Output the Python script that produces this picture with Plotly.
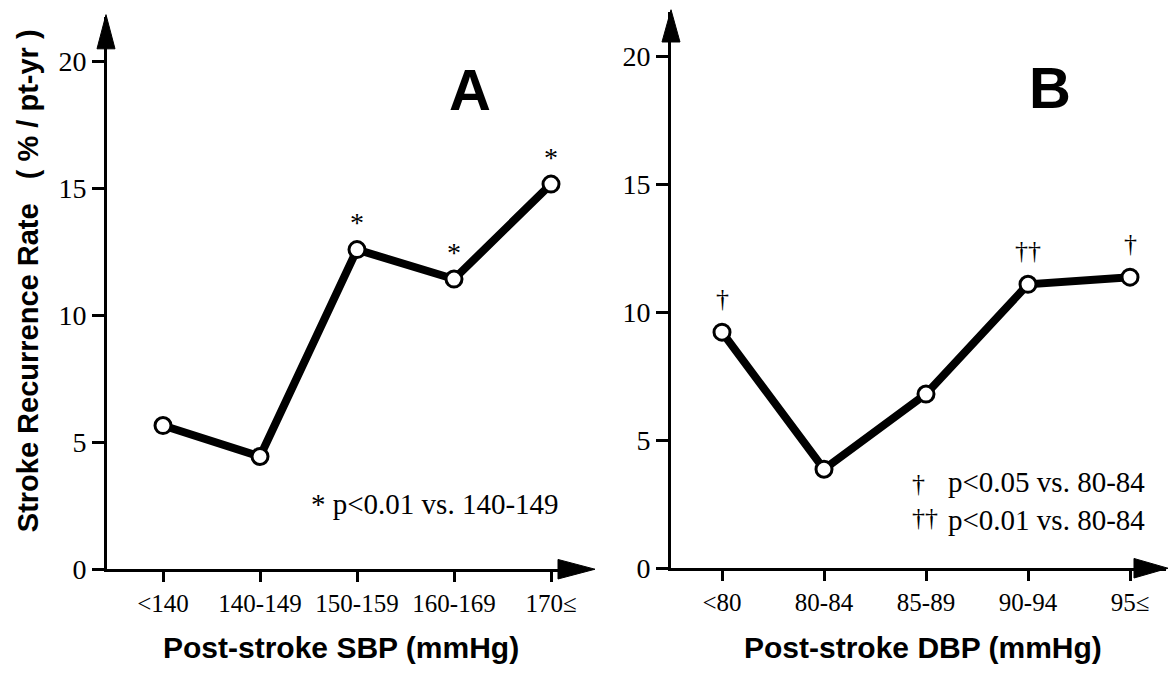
import plotly.graph_objects as go

# ---------------- data ----------------
sbp_categories = ["&lt;140", "140-149", "150-159", "160-169", "170≤"]
sbp_rates = [5.66, 4.44, 12.59, 11.43, 15.17]
sbp_marks = ["", "", "*", "*", "*"]

dbp_categories = ["&lt;80", "80-84", "85-89", "90-94", "95≤"]
dbp_rates = [9.23, 3.87, 6.81, 11.10, 11.38]
dbp_marks = ["†", "", "", "††", "†"]

y_ticks = [0, 5, 10, 15, 20]

# ---------------- layout helpers ----------------
W, H = 1168, 677


def px(x):
    return x / W


def py(y):
    return 1 - y / H


SERIF = "Liberation Serif, Times New Roman, serif"
SANS = "Liberation Sans, Arial, sans-serif"

fig = go.Figure()

for i, (cats, vals) in enumerate([(sbp_categories, sbp_rates), (dbp_categories, dbp_rates)]):
    fig.add_trace(go.Scatter(
        x=list(range(len(cats))), y=vals,
        mode="lines+markers",
        line=dict(color="black", width=8),
        marker=dict(symbol="circle", size=16, color="white",
                    line=dict(color="black", width=3)),
        xaxis="x" if i == 0 else "x2",
        yaxis="y" if i == 0 else "y2",
        showlegend=False, hoverinfo="skip",
        cliponaxis=False,
    ))

# significance marks
for cats, vals, marks, xr, yr, sz, shift in [
    (sbp_categories, sbp_rates, sbp_marks, "x", "y", 28, 27),
    (dbp_categories, dbp_rates, dbp_marks, "x2", "y2", 26, 34),
]:
    for j, m in enumerate(marks):
        if m:
            fig.add_annotation(x=j, y=vals[j], xref=xr, yref=yr, text=m,
                               showarrow=False, yshift=shift,
                               xanchor="center", yanchor="middle",
                               font=dict(family=SERIF, size=sz, color="black"))

axis_common = dict(showgrid=False, zeroline=False, showline=True,
                   linecolor="black", linewidth=3, ticks="outside",
                   tickwidth=3, tickcolor="black", fixedrange=True)

# panel A geometry (pixels): y-axis at 107, categories at 163 + 97*k, zero at 583, 26 px/unit
fig.update_layout(
    xaxis=dict(domain=[px(107), px(585)], range=[(107 - 163) / 97, (585 - 163) / 97],
               tickvals=list(range(5)), ticktext=sbp_categories, ticklen=10,
               tickfont=dict(family=SERIF, size=25, color="black"), anchor="y",
               **axis_common),
    yaxis=dict(domain=[py(583), py(17)], range=[0, (583 - 17) / 26],
               tickvals=y_ticks, ticklen=12,
               tickfont=dict(family=SERIF, size=28, color="black"), anchor="x",
               **axis_common),
    xaxis2=dict(domain=[px(671), px(1166)], range=[(671 - 722) / 102, (1166 - 722) / 102],
                tickvals=list(range(5)), ticktext=dbp_categories, ticklen=10,
                tickfont=dict(family=SERIF, size=25, color="black"), anchor="y2",
                **axis_common),
    yaxis2=dict(domain=[py(582), py(12)], range=[0, (582 - 12) / 26.2],
                tickvals=y_ticks, ticklen=12,
                tickfont=dict(family=SERIF, size=28, color="black"), anchor="x2",
                **axis_common),
    width=W, height=H,
    margin=dict(l=0, r=0, t=0, b=0, pad=0),
    paper_bgcolor="white", plot_bgcolor="white",
    showlegend=False,
)

# arrowheads at the axis ends
def tri(points):
    return "M " + " L ".join(f"{px(a):.5f},{py(b):.5f}" for a, b in points) + " Z"

arrows = [
    [(106, 15), (97, 50), (115, 50)],        # A y-axis
    [(595, 583), (558, 573), (558, 593)],    # A x-axis
    [(671, 10), (662, 43), (680, 43)],       # B y-axis
    [(1168, 582), (1134, 572), (1134, 592)], # B x-axis
]
for pts in arrows:
    fig.add_shape(type="path", path=tri(pts), xref="paper", yref="paper",
                  fillcolor="black", line=dict(color="black", width=1))


def paper_text(x, y, text, size, family, **kw):
    fig.add_annotation(x=px(x), y=py(y), xref="paper", yref="paper", text=text,
                       showarrow=False, xanchor=kw.pop("xanchor", "center"),
                       yanchor="middle",
                       font=dict(family=family, size=size, color="black"), **kw)


# panel letters
paper_text(470, 92, "<b>A</b>", 58, SANS)
paper_text(1050, 90, "<b>B</b>", 58, SANS)

# footnotes
paper_text(309, 516, "* p&lt;0.01 vs. 140-149", 29, SERIF, xanchor="left")
paper_text(910, 513, "†<br>††", 26, SERIF, xanchor="left", align="left")
paper_text(946, 513, "p&lt;0.05 vs. 80-84<br>p&lt;0.01 vs. 80-84", 29, SERIF,
           xanchor="left", align="left")

# axis titles
paper_text(28, 288, "<b>Stroke Recurrence Rate\u00a0\u00a0\u00a0( % / pt-yr )</b>", 29, SANS,
           textangle=-90)
paper_text(341, 663, "<b>Post-stroke SBP (mmHg)</b>", 30, SANS)
paper_text(923, 663, "<b>Post-stroke DBP (mmHg)</b>", 30, SANS)

page_fix = (
    "document.documentElement.style.margin='0';"
    "document.documentElement.style.overflow='hidden';"
    "document.body.style.margin='0';"
    "document.body.style.overflow='hidden';"
)
fig.write_html("out.html", post_script=page_fix, config={"displayModeBar": False})
